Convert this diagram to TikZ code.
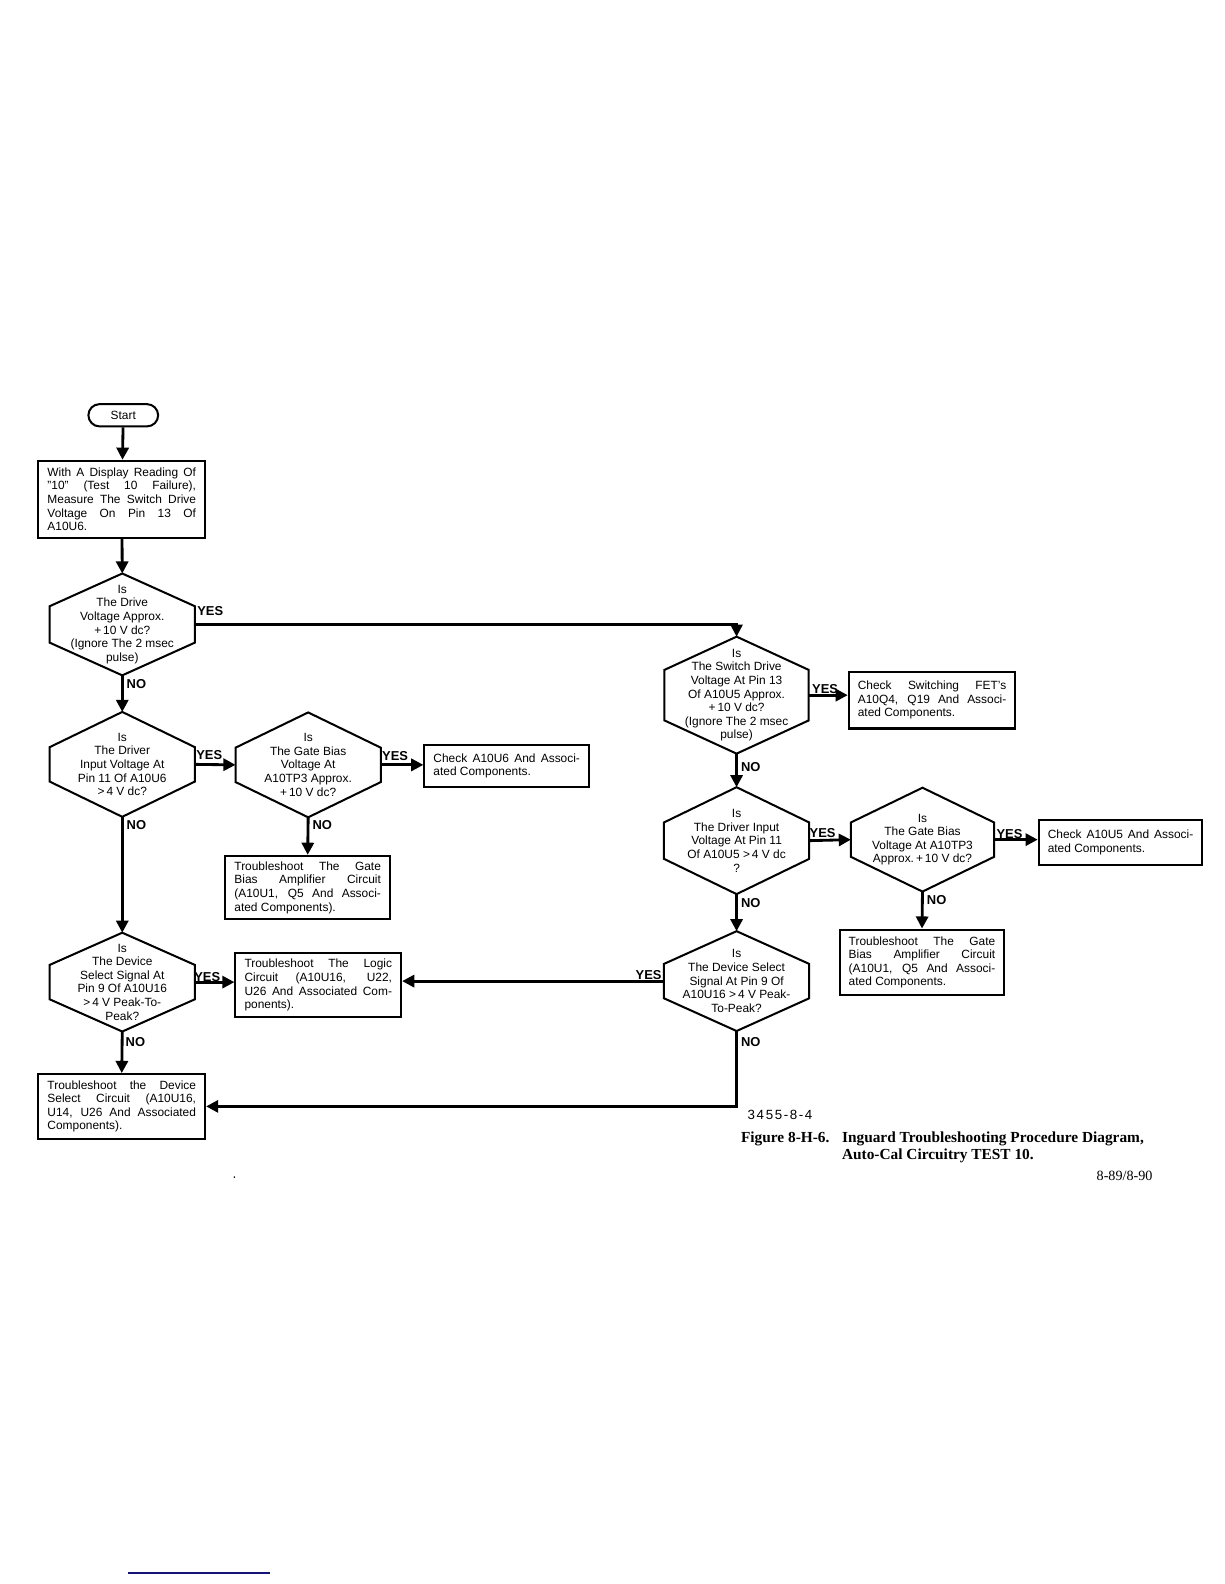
\documentclass[tikz,border=0pt]{standalone}
\usepackage{fontspec}
\setmainfont{Liberation Sans}
\newfontfamily\capfont{Liberation Serif}
\usetikzlibrary{arrows.meta,calc,shapes.misc}
\definecolor{navyline}{RGB}{20,20,120}
\newcommand{\hexa}[2]{\draw[line width=1pt,line join=miter] (#1.north) -- ($(#1.east)+(0,-#2)$) -- ($(#1.east)+(0,#2)$) -- (#1.south) -- ($(#1.west)+(0,#2)$) -- ($(#1.west)+(0,-#2)$) -- cycle;}
\begin{document}
\begin{tikzpicture}[x=0.5pt,y=-0.5pt,
  txt/.style={font=\fontsize{5.9}{6.75}\selectfont},
  box/.style={draw,line width=1pt,rectangle,txt,align=justify,inner xsep=4.5pt,inner ysep=2pt},
  dec/.style={rectangle,txt,align=center,inner sep=0pt},
  arr/.style={line width=1.4pt,-{Triangle[length=6pt,width=6pt]}},
  lab/.style={font=\bfseries\fontsize{6.4}{7}\selectfont,inner sep=0.5pt},
]
\useasboundingbox (0,0) rectangle (1211.4,1567.7);

% ---- left column
\node[draw,line width=1pt,rounded rectangle,minimum width=34.5pt,minimum height=11pt,inner sep=0pt,txt] (start) at (122,411) {Start};
\node[box,text width=73.5pt,minimum height=38pt] (b1) at (120.5,494) {With A Display Reading Of\linebreak ''10'' (Test 10 Failure),\linebreak Measure The Switch Drive\linebreak Voltage On Pin 13 Of\linebreak A10U6.};

\node[dec,minimum width=71.5pt,minimum height=50pt] (d1) at (121,618) {Is\\The Drive\\Voltage Approx.\\+\,10 V dc?\\(Ignore The 2 msec\\pulse)};
\hexa{d1}{18}
\node[dec,minimum width=71.5pt,minimum height=51.5pt] (d2) at (121,756.5) {Is\\The Driver\\Input Voltage At\\Pin 11 Of A10U6\\>\,4 V dc?};
\hexa{d2}{17}
\node[dec,minimum width=71.5pt,minimum height=51.5pt] (d3) at (305,757) {Is\\The Gate Bias\\Voltage At\\A10TP3 Approx.\\+\,10 V dc?};
\hexa{d3}{17}
\node[box,text width=72.5pt,minimum height=21pt] (bc6) at (501.5,758) {Check A10U6 And Associ-\linebreak ated Components.};
\node[box,text width=72.5pt,minimum height=31.5pt] (bg1) at (304.5,878.5) {Troubleshoot The Gate\linebreak Bias Amplifier Circuit\linebreak (A10U1, Q5 And Associ-\linebreak ated Components).};
\node[dec,minimum width=71.5pt,minimum height=48.5pt] (d5) at (121,972) {Is\\The Device\\Select Signal At\\Pin 9 Of A10U16\\>\,4 V Peak-To-\\Peak?};
\hexa{d5}{17}
\node[box,text width=73pt,minimum height=32pt] (bl) at (315,975) {Troubleshoot The Logic\linebreak Circuit (A10U16, U22,\linebreak U26 And Associated Com-\linebreak ponents).};
\node[box,text width=73.5pt,minimum height=32pt] (bd) at (120.5,1095) {Troubleshoot the Device\linebreak Select Circuit (A10U16,\linebreak U14, U26 And Associated\linebreak Components).};

% ---- right column
\node[dec,minimum width=71pt,minimum height=57.5pt] (d4) at (729,688) {Is\\The Switch Drive\\Voltage At Pin 13\\Of A10U5 Approx.\\+\,10 V dc?\\(Ignore The 2 msec\\pulse)};
\hexa{d4}{25}
\node[box,text width=73.5pt,minimum height=28pt] (bf) at (922.5,693) {Check Switching FET's\linebreak A10Q4, Q19 And Associ-\linebreak ated Components.};
\node[dec,minimum width=71.5pt,minimum height=52.5pt] (d6) at (729,832) {Is\\The Driver Input\\Voltage At Pin 11\\Of A10U5 >\,4 V dc\\?};
\hexa{d6}{18}
\node[dec,minimum width=70.5pt,minimum height=51pt] (d7) at (913,831) {Is\\The Gate Bias\\Voltage At A10TP3\\Approx.\,+\,10 V dc?};
\hexa{d7}{17}
\node[box,text width=72pt,minimum height=22pt] (bc5) at (1109,834) {Check A10U5 And Associ-\linebreak ated Components.};
\node[box,text width=72.5pt,minimum height=32.5pt] (bg2) at (912.5,952.5) {Troubleshoot The Gate\linebreak Bias Amplifier Circuit\linebreak (A10U1, Q5 And Associ-\linebreak ated Components.};
\node[dec,minimum width=71.5pt,minimum height=49pt] (d8) at (729,971) {Is\\The Device Select\\Signal At Pin 9 Of\\A10U16 >\,4 V Peak-\\To-Peak?};
\hexa{d8}{17}

% ---- connectors
\draw[arr] (start) -- (b1);
\draw[arr] (b1) -- (d1.north);
\draw[line width=1.1pt,-{Triangle[length=6pt,width=6pt]}] (d1.east) -- (d1.east -| d4.north) -- (d4.north);
\draw[arr] (d1.south) -- (d2.north);
\draw[arr] (d2.east) -- (d3.west);
\draw[arr] (d3.east) -- (d3.east -| bc6.west);
\draw[arr] (d3.south) -- (bg1.north);
\draw[arr] (d2.south) -- (d5.north);
\draw[arr] (d5.east) -- (d5.east -| bl.west);
\draw[arr] (d5.south) -- (bd.north);
\draw[arr] (d4.east) -- (d4.east -| bf.west);
\draw[arr] (d4.south) -- (d6.north);
\draw[arr] (d6.east) -- (d7.west);
\draw[arr] (d7.east) -- (d7.east -| bc5.west);
\draw[arr] (d7.south) -- (bg2.north);
\draw[arr] (d6.south) -- (d8.north);
\draw[arr] (d8.west) -- (d8.west -| bl.east);
\draw[arr] (d8.south) -- (d8.south |- bd.east) -- (bd.east);

% ---- labels
\node[lab,anchor=west] (y1) at ($(d1.east)+(1,-13)$) {YES};
\node[lab,anchor=west] (y2) at ($(d2.east)+(0,-9)$) {YES};
\node[lab,anchor=west] (y3) at ($(d3.east)+(0,-9)$) {YES};
\node[lab,anchor=west] (y5) at ($(d5.east)+(-2,-5)$) {YES};
\node[lab,anchor=west] (y4) at ($(d4.east)+(2,-6)$) {YES};
\node[lab,anchor=west] (y6) at ($(d6.east)+(-1,-8)$) {YES};
\node[lab,anchor=west] (y7) at ($(d7.east)+(1,-6)$) {YES};
\node[lab,anchor=east] (y8) at ($(d8.west)+(-1,-6)$) {YES};
\node[lab,anchor=west] (n1) at ($(d1.south)+(3,8.5)$) {NO};
\node[lab,anchor=west] (n2) at ($(d2.south)+(3,8)$) {NO};
\node[lab,anchor=west] (n3) at ($(d3.south)+(3,8)$) {NO};
\node[lab,anchor=west] (n5) at ($(d5.south)+(2,10)$) {NO};
\node[lab,anchor=west] (n4) at ($(d4.south)+(3,13)$) {NO};
\node[lab,anchor=west] (n6) at ($(d6.south)+(3,9)$) {NO};
\node[lab,anchor=west] (n7) at ($(d7.south)+(3,8)$) {NO};
\node[lab,anchor=west] (n8) at ($(d8.south)+(3,11)$) {NO};

% ---- caption
\node[font=\fontsize{6.6}{8}\selectfont\addfontfeature{LetterSpace=12},inner sep=0pt] (code) at (772,1103) {3455-8-4};
\node[anchor=base west,inner sep=0pt,font=\capfont\bfseries\fontsize{7.6}{9}\selectfont] (fig) at (733,1131) {Figure 8-H-6.};
\node[anchor=base west,inner sep=0pt,font=\capfont\bfseries\fontsize{7.6}{9}\selectfont] (figa) at (833,1131) {Inguard Troubleshooting Procedure Diagram,};
\node[anchor=base west,inner sep=0pt,font=\capfont\bfseries\fontsize{7.6}{9}\selectfont] (figb) at (833,1148) {Auto-Cal Circuitry TEST 10.};
\node[anchor=base east,inner sep=0pt,font=\capfont\fontsize{7}{8}\selectfont] (page) at (1141,1168) {8-89/8-90};
\fill (232,1165) circle (0.9);
\draw[navyline,line width=0.8pt] (127,1557) -- (267,1557);
\end{tikzpicture}
\end{document}
